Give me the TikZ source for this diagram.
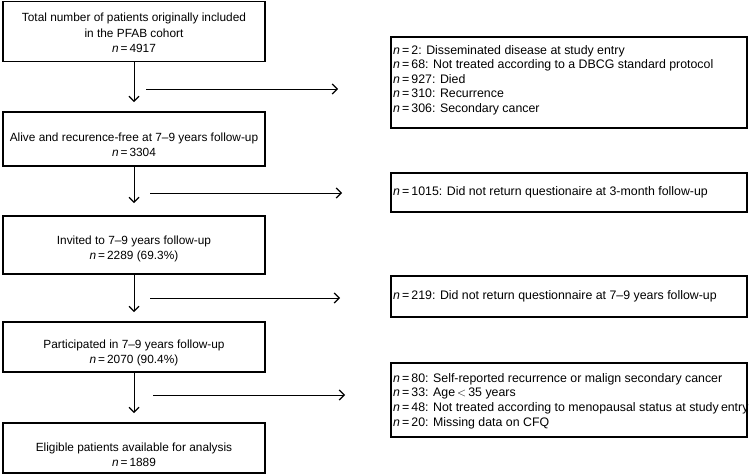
\documentclass[tikz,border=0pt]{standalone}
\usepackage{fontspec}
\setmainfont{Liberation Sans}
\usetikzlibrary{arrows.meta}
\newcommand{\nn}{\textit{n}\,=\,}
\begin{document}
\begin{tikzpicture}[x=1bp,y=-1bp,
  lbox/.style={draw, line width=1.8bp, inner sep=0pt, minimum width=262bp},
  rbox/.style={draw, line width=1.8bp, inner sep=0pt, minimum width=356bp},
  ltxt/.style={inner sep=0pt, align=center, font=\fontsize{11.9}{15.5}\selectfont},
  rtxt/.style={inner sep=0pt, anchor=west, align=left, font=\fontsize{12.4}{14.6}\selectfont},
  arr/.style={line width=0.9bp, -{Straight Barb[length=5bp,width=10bp,line width=1.2bp]}}]
\useasboundingbox (0,0) rectangle (751,475);
% left boxes
\node[lbox, minimum height=60bp] (b1) at (134,31.5) {};
\node[ltxt] (t1) at (134,33) {Total number of patients originally included\\in the PFAB cohort\\\nn 4917};
\node[lbox, minimum height=54bp] (b2) at (134,139) {};
\node[ltxt] (t2) at (134,145) {Alive and recurence-free at 7--9 years follow-up\\\nn 3304};
\node[lbox, minimum height=58bp] (b3) at (134,245) {};
\node[ltxt] (t3) at (134,249) {Invited to 7--9 years follow-up\\\nn 2289 (69.3\%)};
\node[lbox, minimum height=50bp] (b4) at (134,347) {};
\node[ltxt] (t4) at (134,353) {Participated in 7--9 years follow-up\\\nn 2070 (90.4\%)};
\node[lbox, minimum height=50bp] (b5) at (134,448) {};
\node[ltxt] (t5) at (134,455) {Eligible patients available for analysis\\\nn 1889};
% right boxes
\node[rbox, minimum height=91bp] (rA) at (569,82.5) {};
\node[rtxt] (tA) at (393,80) {\nn 2: Disseminated disease at study entry\\\nn 68: Not treated according to a DBCG standard protocol\\\nn 927: Died\\\nn 310: Recurrence\\\nn 306: Secondary cancer};
\node[rbox, minimum height=39bp] (rB) at (569,192.5) {};
\node[rtxt] (tB) at (393,192.5) {\nn 1015: Did not return questionaire at 3-month follow-up};
\node[rbox, minimum height=41bp] (rC) at (569,296.5) {};
\node[rtxt] (tC) at (393,296) {\nn 219: Did not return questionnaire at 7--9 years follow-up};
\node[rbox, minimum height=74bp] (rD) at (569,400) {};
\node[rtxt] (tD) at (393,401) {\nn 80: Self-reported recurrence or malign secondary cancer\\\nn 33: Age\,$<$\,35 years\\\nn 48: Not treated according to menopausal status at study\kern2.2bp entry\\\nn 20: Missing data on CFQ};
% vertical arrows
\draw[arr, shorten >=9bp] (b1.south) -- (b2.north);
\draw[arr, shorten >=12bp] (b2.south) -- (b3.north);
\draw[arr, shorten >=9bp] (b3.south) -- (b4.north);
\draw[arr, shorten >=9bp] (b4.south) -- (b5.north);
% horizontal arrows
\coordinate (h1s) at (146,89); \coordinate (h1e) at (338,89);
\coordinate (h2s) at (150,193); \coordinate (h2e) at (342,193);
\coordinate (h3s) at (150,298); \coordinate (h3e) at (340,298);
\coordinate (h4s) at (153,395); \coordinate (h4e) at (345,395);
\draw[arr] (h1s) -- (h1e);
\draw[arr] (h2s) -- (h2e);
\draw[arr] (h3s) -- (h3e);
\draw[arr] (h4s) -- (h4e);
\end{tikzpicture}
\end{document}
